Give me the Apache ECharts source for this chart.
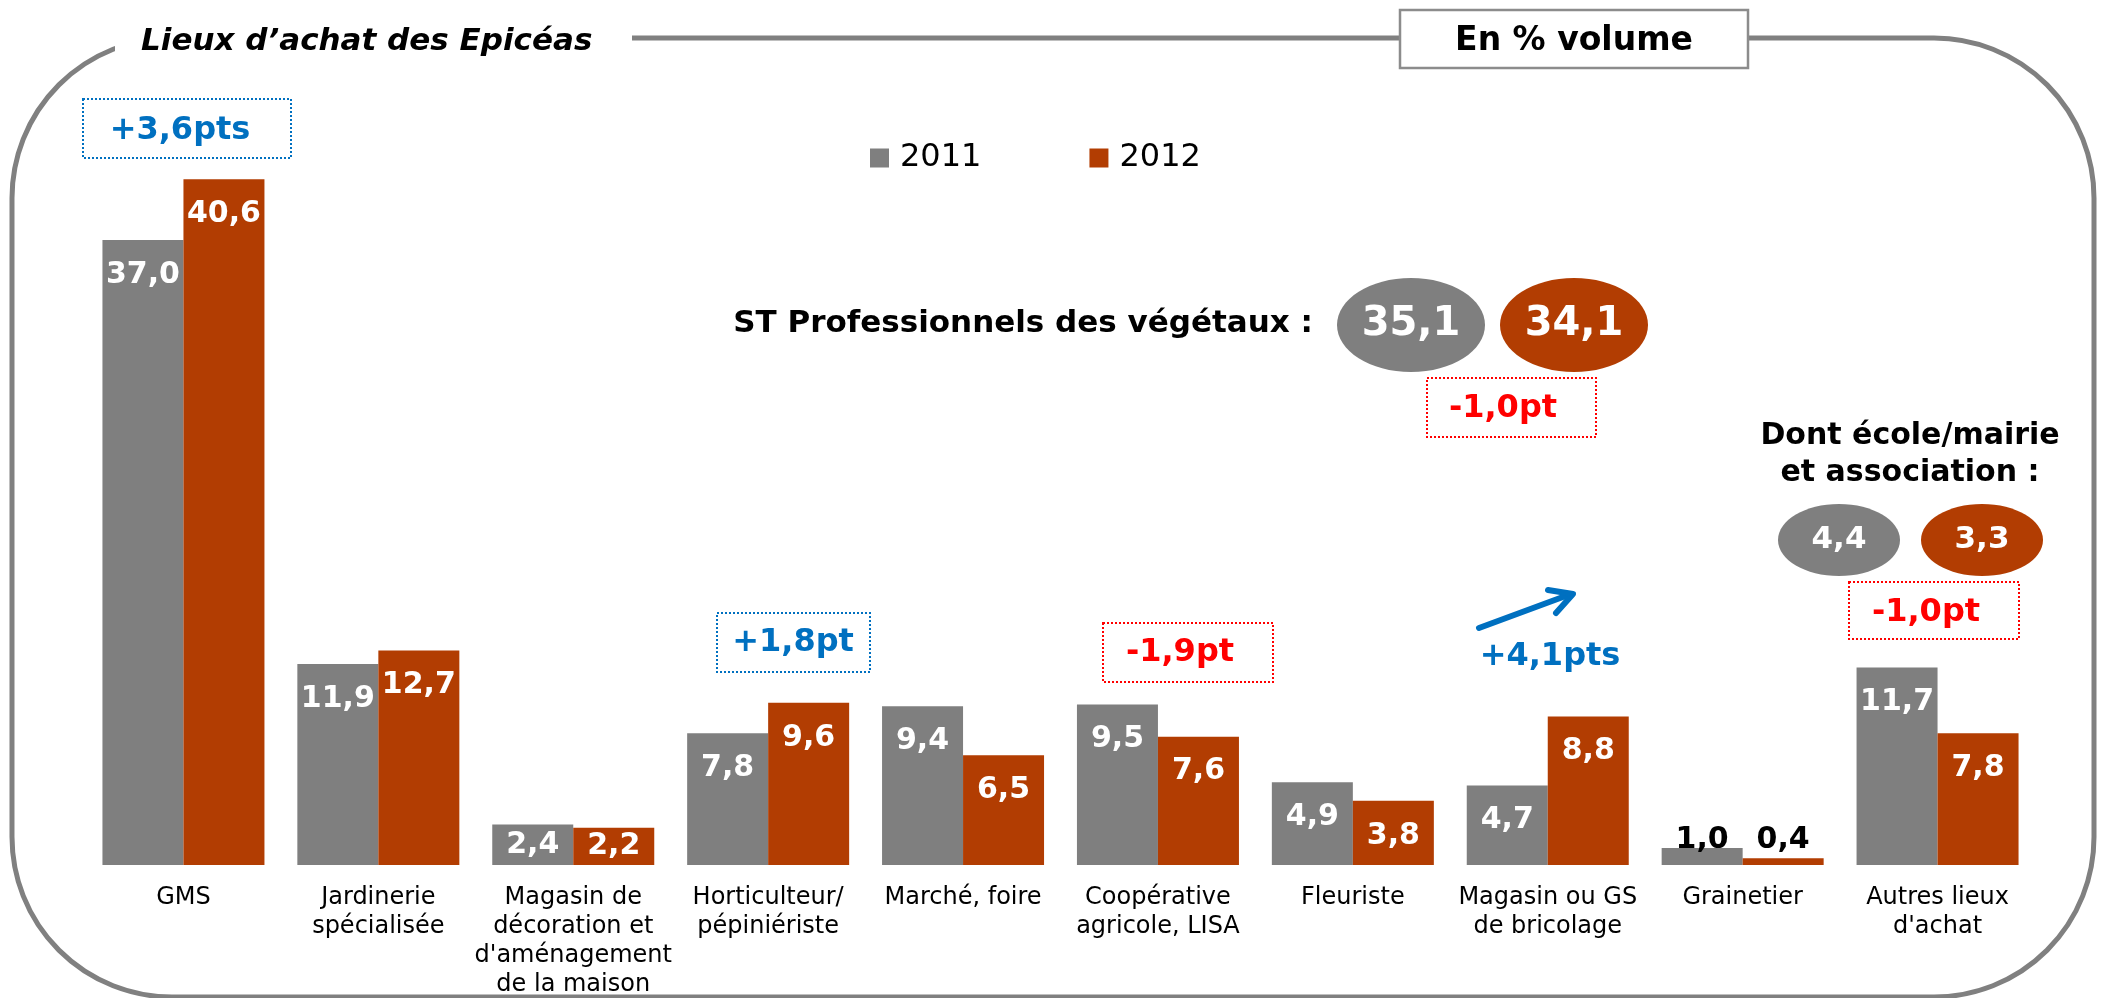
<!DOCTYPE html>
<html>
<head>
<meta charset="utf-8">
<script src="https://cdn.jsdelivr.net/npm/echarts@6/dist/echarts.min.js"></script>
<style>
  html, body { margin: 0; padding: 0; background: #fff; }
  #main { width: 2102px; height: 998px; }
</style>
</head>
<body>
<div id="main"></div>
<script>
// données
var categories = ['GMS', 'Jardinerie\nspécialisée', 'Magasin de\ndécoration et\nd\'aménagement\nde la maison',
  'Horticulteur/\npépiniériste', 'Marché, foire', 'Coopérative\nagricole, LISA', 'Fleuriste',
  'Magasin ou GS\nde bricolage', 'Grainetier', 'Autres lieux\nd\'achat'];
var v2011 = [37.0, 11.9, 2.4, 7.8, 9.4, 9.5, 4.9, 4.7, 1.0, 11.7];
var v2012 = [40.6, 12.7, 2.2, 9.6, 6.5, 7.6, 3.8, 8.8, 0.4, 7.8];
var stPro = [35.1, 34.1];
var dontEcole = [4.4, 3.3];

var GRIS = '#7f7f7f';
var ORANGE = '#b23d02';
var BLEU = '#0070c0';
var ROUGE = '#ff0000';
var FONT = 'DejaVu Sans';

function fmt(v) { return v.toFixed(1).replace('.', ','); }

// étiquettes des barres selon la hauteur
function buildData(vals) {
  return vals.map(function (v) {
    var d = { value: v };
    if (v < 1.5) {
      d.label = { position: 'top', color: '#000', distance: v < 0.7 ? 3 : -7 };
    } else if (v < 3) {
      d.label = { position: 'inside' };
    }
    return d;
  });
}

var labelBase = {
  show: true,
  position: 'insideTop',
  distance: 20,
  color: '#fff',
  fontFamily: FONT,
  fontWeight: 'bold',
  fontSize: 30,
  formatter: function (p) { return fmt(p.value); }
};

function boite(x, y, w, h, couleur, texte, tx, ty) {
  return [
    { type: 'rect', z: 60, shape: { x: x, y: y, width: w, height: h },
      style: { fill: 'none', stroke: couleur, lineWidth: 2, lineDash: [2, 2] } },
    { type: 'text', z: 61, x: tx, y: ty,
      style: { text: texte, fill: couleur, font: 'bold 32px "' + FONT + '"', align: 'center', verticalAlign: 'middle' } }
  ];
}

function bulle(cx, cy, rx, ry, couleur, texte, taille) {
  return [
    { type: 'ellipse', z: 60, shape: { cx: cx, cy: cy, rx: rx, ry: ry }, style: { fill: couleur } },
    { type: 'text', z: 61, x: cx, y: cy,
      style: { text: texte, fill: '#fff', font: 'bold ' + taille + 'px "' + FONT + '"', align: 'center', verticalAlign: 'middle' } }
  ];
}

var graphics = [
  // cadre arrondi (sous les étiquettes)
  { type: 'rect', z: 1, shape: { x: 12, y: 38, width: 2082, height: 959, r: 160 },
    style: { fill: 'none', stroke: '#808080', lineWidth: 5 } },
  { type: 'rect', z: 5, shape: { x: 115, y: 12, width: 517, height: 48 }, style: { fill: '#fff' } },
  { type: 'text', z: 52, x: 141, y: 42,
    style: { text: 'Lieux d\u2019achat des Epicéas', fill: '#000', font: 'italic bold 31px "' + FONT + '"', align: 'left', verticalAlign: 'middle' } },
  { type: 'rect', z: 52, shape: { x: 1400, y: 10, width: 348, height: 58 },
    style: { fill: '#fff', stroke: '#8c8c8c', lineWidth: 2.5 } },
  { type: 'text', z: 53, x: 1574, y: 41,
    style: { text: 'En % volume', fill: '#000', font: 'bold 33px "' + FONT + '"', align: 'center', verticalAlign: 'middle' } },

  // ST professionnels
  { type: 'text', z: 60, x: 1313, y: 324,
    style: { text: 'ST Professionnels des végétaux :', fill: '#000', font: 'bold 31px "' + FONT + '"', align: 'right', verticalAlign: 'middle' } },

  // dont école/mairie
  { type: 'text', z: 60, x: 1910, y: 455,
    style: { text: 'Dont école/mairie\net association :', fill: '#000', font: 'bold 30px "' + FONT + '"', lineHeight: 37, align: 'center', verticalAlign: 'middle' } },

  // flèche +4,1pts
  { type: 'line', z: 60, shape: { x1: 1479, y1: 628, x2: 1571, y2: 594 },
    style: { stroke: BLEU, lineWidth: 6, lineCap: 'round' } },
  { type: 'polyline', z: 60, shape: { points: [[1548, 590], [1573, 594], [1556, 613]] },
    style: { stroke: BLEU, lineWidth: 6, fill: 'none', lineCap: 'round', lineJoin: 'round' } },
  { type: 'text', z: 60, x: 1550, y: 657,
    style: { text: '+4,1pts', fill: BLEU, font: 'bold 32px "' + FONT + '"', align: 'center', verticalAlign: 'middle' } }
];

graphics = graphics
  .concat(bulle(1411, 325, 74, 47, GRIS, fmt(stPro[0]), 40))
  .concat(bulle(1574, 325, 74, 47, ORANGE, fmt(stPro[1]), 40))
  .concat(bulle(1839, 540, 61, 36, GRIS, fmt(dontEcole[0]), 31))
  .concat(bulle(1982, 540, 61, 36, ORANGE, fmt(dontEcole[1]), 31))
  .concat(boite(83, 99, 208, 59, BLEU, '+3,6pts', 180, 131))
  .concat(boite(717, 613, 153, 59, BLEU, '+1,8pt', 793, 643))
  .concat(boite(1103, 623, 170, 59, ROUGE, '-1,9pt', 1180, 653))
  .concat(boite(1427, 378, 169, 59, ROUGE, '-1,0pt', 1503, 409))
  .concat(boite(1849, 582, 170, 57, ROUGE, '-1,0pt', 1926, 613));

var myChart = echarts.init(document.getElementById('main'));
myChart.setOption({
  backgroundColor: '#fff',
  animation: false,
  legend: {
    left: 865,
    top: 137,
    itemWidth: 19,
    itemHeight: 19,
    itemGap: 108,
    icon: 'rect',
    selectedMode: false,
    textStyle: { fontFamily: FONT, fontSize: 32, color: '#000', padding: [0, 0, 0, 6] },
    data: ['2011', '2012']
  },
  grid: { left: 86, right: 67, top: 105, bottom: 133, outerBoundsMode: 'none', containLabel: false },
  xAxis: {
    type: 'category',
    data: categories,
    z: 20,
    axisLine: { show: false },
    axisTick: { show: false },
    axisLabel: {
      interval: 0,
      margin: 18,
      fontFamily: FONT,
      fontSize: 24,
      lineHeight: 29,
      color: '#000'
    }
  },
  yAxis: {
    type: 'value',
    min: 0,
    max: 45,
    show: false,
    splitLine: { show: false }
  },
  series: [
    { name: '2011', type: 'bar', barWidth: 81, barGap: '0%', itemStyle: { color: GRIS },
      label: labelBase, data: buildData(v2011) },
    { name: '2012', type: 'bar', barWidth: 81, barGap: '0%', itemStyle: { color: ORANGE },
      label: labelBase, data: buildData(v2012) }
  ],
  graphic: graphics
});
</script>
</body>
</html>
